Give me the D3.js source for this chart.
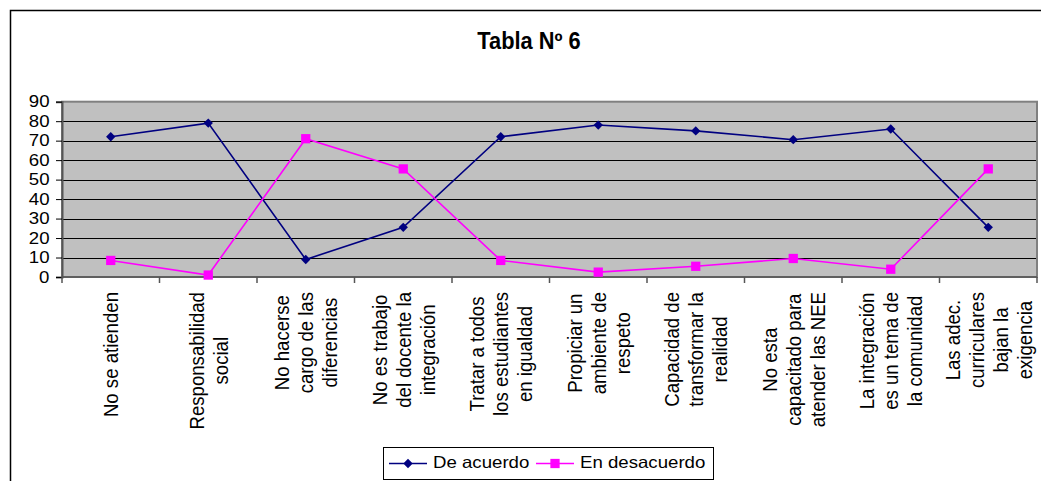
<!DOCTYPE html>
<html>
<head>
<meta charset="utf-8">
<script src="https://cdn.jsdelivr.net/npm/d3@7"></script>
<style>
  body { margin: 0; background: #fff; }
  svg { display: block; font-family: "Liberation Sans", Arial, sans-serif; }
</style>
</head>
<body>
<div class="container"></div>
<script>
// categorias (con saltos de linea como en la tabla)
const categories = [
  ["No se atienden"],
  ["Responsabilidad", "social"],
  ["No hacerse", "cargo de las", "diferencias"],
  ["No es trabajo", "del docente la", "integración"],
  ["Tratar a todos", "los estudiantes", "en igualdad"],
  ["Propiciar un", "ambiente de", "respeto"],
  ["Capacidad de", "transformar la", "realidad"],
  ["No esta", "capacitado para", "atender las NEE"],
  ["La integración", "es un tema de", "la comunidad"],
  ["Las adec.", "curriculares", "bajan la", "exigencia"]
];
const deAcuerdo = [72, 79, 9, 25.5, 72, 78, 75, 70.5, 76, 25.5];
const enDesacuerdo = [8.5, 1, 71, 55.5, 8.5, 2.5, 5.5, 9.5, 4, 55.5];
const yTicks = [0, 10, 20, 30, 40, 50, 60, 70, 80, 90];
const title = "Tabla Nº 6";

const width = 1041;
const height = 481;
const plot = { left: 62, right: 1037, top: 101.7, bottom: 277 };
// el original esta algo estirado en horizontal
const stretch = 1.13;

const series = [
  { name: "De acuerdo", values: deAcuerdo, color: "#000080", marker: "diamond" },
  { name: "En desacuerdo", values: enDesacuerdo, color: "#FF00FF", marker: "square" }
];

let svg = d3
  .select(".container")
  .append("svg")
  .attr("width", width)
  .attr("height", height);

// marco del grafico
svg.append("path")
  .attr("d", `M10.5,${height} V10.5 H${width}`)
  .attr("fill", "none")
  .attr("stroke", "#000")
  .attr("stroke-width", 1.5);

svg.append("text")
  .attr("transform", "translate(529,49) scale(0.95,1)")
  .attr("text-anchor", "middle")
  .attr("font-size", 23)
  .attr("font-weight", "bold")
  .text(title);

let x = d3
  .scaleBand()
  .domain(d3.range(categories.length))
  .range([plot.left, plot.right]);
let y = d3
  .scaleLinear()
  .domain([0, 90])
  .range([plot.bottom, plot.top]);

// area de trazado
svg.append("rect")
  .attr("x", plot.left)
  .attr("y", plot.top)
  .attr("width", plot.right - plot.left)
  .attr("height", plot.bottom - plot.top)
  .attr("fill", "#C0C0C0");

svg.append("g")
  .selectAll("line")
  .data(yTicks.filter(d => d > 0 && d < 90))
  .join("line")
  .attr("x1", plot.left)
  .attr("x2", plot.right)
  .attr("y1", d => Math.round(y(d)) + 0.5)
  .attr("y2", d => Math.round(y(d)) + 0.5)
  .attr("stroke", "#000")
  .attr("stroke-width", 1.2);

svg.append("rect")
  .attr("x", plot.left)
  .attr("y", plot.top)
  .attr("width", plot.right - plot.left)
  .attr("height", plot.bottom - plot.top)
  .attr("fill", "none")
  .attr("stroke", "#808080")
  .attr("stroke-width", 2);

// eje Y
let yAxis = svg
  .append("g")
  .attr("transform", `translate(${plot.left},0)`)
  .call(
    d3.axisLeft(y)
      .tickValues(yTicks)
      .tickSize(6)
      .tickPadding(6)
      .tickFormat(d3.format("d"))
  );
yAxis.select(".domain").attr("stroke", "#555").attr("stroke-width", 2);
yAxis.selectAll(".tick line").attr("stroke", "#000");
yAxis.selectAll(".tick text")
  .attr("x", 0)
  .attr("transform", `translate(-12.5,0) scale(${stretch},1)`)
  .attr("font-size", 16.5)
  .attr("font-family", "Liberation Sans, Arial, sans-serif")
  .attr("fill", "#000");

// eje X: marcas en los limites de cada categoria
let xBounds = categories.map((c, i) => x(i)).concat([plot.right]);
svg.append("g")
  .selectAll("line")
  .data(xBounds)
  .join("line")
  .attr("x1", d => d)
  .attr("x2", d => d)
  .attr("y1", plot.bottom)
  .attr("y2", plot.bottom + 6)
  .attr("stroke", "#555")
  .attr("stroke-width", 1.5);
svg.append("line")
  .attr("x1", plot.left)
  .attr("x2", plot.right)
  .attr("y1", plot.bottom)
  .attr("y2", plot.bottom)
  .attr("stroke", "#555")
  .attr("stroke-width", 1.5);

// etiquetas rotadas
const lineH = 24 / stretch;
let labels = svg
  .append("g")
  .attr("font-size", 18.6)
  .selectAll("g")
  .data(categories)
  .join("g");
labels.each(function(lines, i) {
  let g = d3.select(this);
  let texts = g.selectAll("text")
    .data(lines)
    .join("text")
    .attr("text-anchor", "middle")
    .attr("dominant-baseline", "central")
    .attr("x", 0)
    .attr("y", (d, k) => (k - (lines.length - 1) / 2) * lineH)
    .text(d => d);
  let maxLen = d3.max(texts.nodes(), n => n.getComputedTextLength());
  g.attr(
    "transform",
    `translate(${x(i) + x.bandwidth() / 2},${292 + maxLen / 2}) rotate(-90) scale(1,${stretch})`
  );
});

// series
let line = d3
  .line()
  .x((d, i) => x(i) + x.bandwidth() / 2)
  .y(d => y(d));

const markerPath = s =>
  s.marker === "diamond"
    ? d3.symbol(d3.symbolSquare, 44)()
    : d3.symbol(d3.symbolSquare, 86)();

series.forEach(s => {
  svg.append("path")
    .datum(s.values)
    .attr("fill", "none")
    .attr("stroke", s.color)
    .attr("stroke-width", 1.6)
    .attr("d", line);
  svg.append("g")
    .selectAll("path")
    .data(s.values)
    .join("path")
    .attr("d", markerPath(s))
    .attr("fill", s.color)
    .attr("transform", (d, i) =>
      `translate(${x(i) + x.bandwidth() / 2},${y(d)})` +
      (s.marker === "diamond" ? " rotate(45)" : "")
    );
});

// leyenda
let legend = svg.append("g");
legend.append("rect")
  .attr("x", 383.5)
  .attr("y", 447.5)
  .attr("width", 330)
  .attr("height", 32)
  .attr("fill", "#fff")
  .attr("stroke", "#000")
  .attr("stroke-width", 1);
const legendX = [389, 536];
let item = legend
  .selectAll("g")
  .data(series)
  .join("g")
  .attr("transform", (d, i) => `translate(${legendX[i]},462)`);
item.append("line")
  .attr("x1", 0)
  .attr("x2", 38)
  .attr("y1", 1.5)
  .attr("y2", 1.5)
  .attr("stroke", d => d.color)
  .attr("stroke-width", 1.6);
item.append("path")
  .attr("d", d => markerPath(d))
  .attr("fill", d => d.color)
  .attr("transform", d => "translate(19,1.5)" + (d.marker === "diamond" ? " rotate(45)" : ""));
item.append("text")
  .attr("transform", `translate(44,0) scale(${stretch},1)`)
  .attr("dominant-baseline", "central")
  .attr("font-size", 16.5)
  .text(d => d.name);
</script>
</body>
</html>
